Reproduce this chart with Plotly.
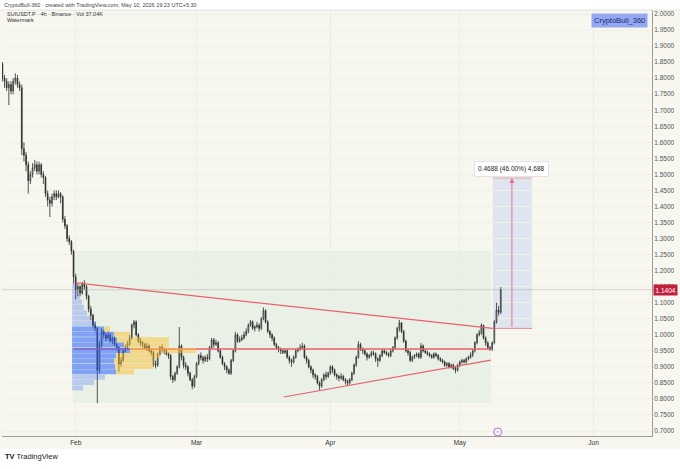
"""
SUIUSDT.P 4h chart (TradingView screenshot) rebuilt with plotly
"""

import pandas as pd
import plotly.graph_objects as go

# ---- candles: 12h bars, one line = 4 days ----
first_open = 1.845
closes = [
    1.80, 1.79, 1.77, 1.78, 1.76, 1.79, 1.80, 1.78,
    1.77, 1.58, 1.56, 1.53, 1.48, 1.50, 1.52, 1.53,
    1.51, 1.53, 1.50, 1.49, 1.44, 1.42, 1.41, 1.43,
    1.44, 1.43, 1.44, 1.43, 1.36, 1.34, 1.30, 1.29,
    1.26, 1.18, 1.14, 1.15, 1.13, 1.16, 1.15, 1.12,
    1.08, 1.06, 1.03, 1.02, 0.89, 0.97, 1.01, 1.00,
    0.99, 1.00, 0.98, 0.99, 0.97, 0.96, 0.91, 0.92,
    0.95, 0.96, 0.97, 0.99, 1.03, 1.04, 1.00, 0.98,
    0.975, 0.97, 0.96, 0.965, 0.95, 0.945, 0.91, 0.905,
    0.94, 0.96, 0.955, 0.95, 0.94, 0.935, 0.87, 0.86,
    0.88, 0.90, 0.965, 0.93, 0.905, 0.90, 0.88, 0.86,
    0.84, 0.87, 0.91, 0.935, 0.928, 0.92, 0.93, 0.925,
    0.96, 0.984, 0.97, 0.975, 0.95, 0.93, 0.91, 0.90,
    0.89, 0.88, 0.92, 0.95, 1.00, 0.98, 0.985, 0.99,
    1.00, 1.01, 1.03, 1.04, 1.02, 1.025, 1.03, 1.02,
    1.05, 1.075, 1.04, 1.01, 1.00, 0.99, 0.97, 0.96,
    0.955, 0.95, 0.945, 0.95, 0.93, 0.92, 0.915, 0.93,
    0.95, 0.955, 0.96, 0.965, 0.93, 0.92, 0.90, 0.89,
    0.875, 0.87, 0.85, 0.84, 0.86, 0.875, 0.87, 0.88,
    0.90, 0.89, 0.875, 0.87, 0.865, 0.87, 0.86, 0.855,
    0.85, 0.86, 0.88, 0.906, 0.93, 0.97, 0.955, 0.95,
    0.94, 0.93, 0.935, 0.944, 0.94, 0.925, 0.92, 0.935,
    0.95, 0.945, 0.94, 0.935, 0.95, 0.96, 0.99, 1.02,
    1.037, 1.01, 0.98, 0.95, 0.944, 0.92, 0.93, 0.935,
    0.94, 0.93, 0.965, 0.95, 0.945, 0.94, 0.935, 0.93,
    0.94, 0.935, 0.925, 0.92, 0.915, 0.905, 0.91, 0.90,
    0.905, 0.895, 0.89, 0.905, 0.915, 0.92, 0.915, 0.925,
    0.93, 0.937, 0.95, 0.975, 1.00, 1.006, 1.03, 0.99,
    0.974, 0.96, 0.955, 0.975, 1.04, 1.077, 1.07, 1.1404,
]
highs = [
    1.85, 1.81, 1.80, 1.79, 1.79, 1.80, 1.815, 1.81,
    1.79, 1.78, 1.60, 1.57, 1.54, 1.51, 1.535, 1.545,
    1.54, 1.54, 1.535, 1.51, 1.495, 1.45, 1.43, 1.44,
    1.45, 1.45, 1.45, 1.445, 1.435, 1.37, 1.345, 1.31,
    1.295, 1.265, 1.19, 1.16, 1.155, 1.165, 1.17, 1.155,
    1.125, 1.09, 1.065, 1.04, 1.025, 0.98, 1.02, 1.015,
    1.005, 1.01, 1.005, 0.995, 0.995, 0.975, 0.965, 0.93,
    0.955, 0.97, 0.98, 1.00, 1.035, 1.046, 1.045, 1.005,
    0.99, 0.98, 0.975, 0.975, 0.97, 0.955, 0.95, 0.92,
    0.945, 0.965, 0.97, 0.96, 0.955, 0.945, 0.94, 0.875,
    0.885, 0.905, 1.024, 0.97, 0.935, 0.915, 0.905, 0.885,
    0.865, 0.875, 0.915, 0.94, 0.945, 0.935, 0.935, 0.94,
    0.965, 0.99, 0.99, 0.985, 0.98, 0.955, 0.935, 0.915,
    0.905, 0.895, 0.925, 0.955, 1.009, 1.005, 0.995, 1.00,
    1.01, 1.02, 1.035, 1.046, 1.045, 1.03, 1.04, 1.035,
    1.055, 1.085, 1.08, 1.045, 1.015, 1.005, 0.995, 0.975,
    0.965, 0.96, 0.955, 0.955, 0.955, 0.935, 0.925, 0.935,
    0.955, 0.96, 0.97, 0.975, 0.97, 0.935, 0.925, 0.905,
    0.895, 0.88, 0.875, 0.855, 0.865, 0.88, 0.885, 0.885,
    0.905, 0.905, 0.895, 0.88, 0.875, 0.88, 0.875, 0.865,
    0.86, 0.865, 0.885, 0.91, 0.935, 0.98, 0.975, 0.96,
    0.955, 0.945, 0.94, 0.95, 0.95, 0.945, 0.93, 0.94,
    0.955, 0.955, 0.95, 0.945, 0.955, 0.965, 0.995, 1.025,
    1.046, 1.04, 1.015, 0.985, 0.955, 0.95, 0.935, 0.94,
    0.945, 0.945, 0.974, 0.97, 0.955, 0.95, 0.945, 0.94,
    0.945, 0.945, 0.94, 0.93, 0.925, 0.92, 0.915, 0.915,
    0.91, 0.91, 0.90, 0.91, 0.92, 0.925, 0.925, 0.93,
    0.935, 0.945, 0.955, 0.98, 1.005, 1.015, 1.035, 1.03,
    0.995, 0.98, 0.965, 0.98, 1.045, 1.10, 1.09, 1.149,
]
lows = [
    1.79, 1.77, 1.76, 1.716, 1.75, 1.75, 1.78, 1.77,
    1.76, 1.56, 1.54, 1.51, 1.44, 1.47, 1.49, 1.51,
    1.50, 1.50, 1.49, 1.47, 1.43, 1.40, 1.367, 1.40,
    1.42, 1.42, 1.425, 1.41, 1.35, 1.33, 1.29, 1.28,
    1.25, 1.16, 1.11, 1.12, 1.12, 1.125, 1.14, 1.11,
    1.07, 1.045, 1.02, 1.01, 0.787, 0.88, 0.96, 0.99,
    0.98, 0.985, 0.975, 0.97, 0.965, 0.95, 0.884, 0.90,
    0.915, 0.945, 0.955, 0.965, 0.985, 1.02, 0.995, 0.975,
    0.965, 0.96, 0.955, 0.95, 0.945, 0.935, 0.90, 0.895,
    0.90, 0.935, 0.945, 0.94, 0.935, 0.925, 0.86, 0.85,
    0.855, 0.875, 0.895, 0.92, 0.895, 0.89, 0.87, 0.855,
    0.83, 0.835, 0.865, 0.905, 0.92, 0.91, 0.915, 0.915,
    0.92, 0.955, 0.96, 0.965, 0.945, 0.925, 0.905, 0.89,
    0.88, 0.875, 0.875, 0.915, 0.945, 0.975, 0.975, 0.98,
    0.985, 0.995, 1.005, 1.025, 1.015, 1.01, 1.02, 1.01,
    1.015, 1.045, 1.035, 1.005, 0.99, 0.98, 0.965, 0.955,
    0.945, 0.94, 0.94, 0.94, 0.925, 0.91, 0.90, 0.91,
    0.925, 0.945, 0.95, 0.955, 0.925, 0.91, 0.895, 0.88,
    0.865, 0.86, 0.845, 0.828, 0.835, 0.855, 0.86, 0.865,
    0.875, 0.88, 0.87, 0.86, 0.855, 0.86, 0.855, 0.845,
    0.84, 0.845, 0.855, 0.875, 0.90, 0.925, 0.95, 0.94,
    0.935, 0.92, 0.925, 0.93, 0.935, 0.915, 0.90, 0.915,
    0.93, 0.94, 0.935, 0.93, 0.93, 0.945, 0.955, 0.985,
    1.01, 1.005, 0.975, 0.945, 0.935, 0.915, 0.915, 0.925,
    0.93, 0.925, 0.925, 0.945, 0.94, 0.935, 0.93, 0.925,
    0.925, 0.93, 0.92, 0.915, 0.91, 0.90, 0.90, 0.895,
    0.895, 0.89, 0.88, 0.885, 0.90, 0.91, 0.91, 0.91,
    0.92, 0.925, 0.93, 0.945, 0.97, 0.995, 1.00, 0.985,
    0.965, 0.955, 0.95, 0.95, 0.97, 1.035, 1.06, 1.065,
]
assert len(closes) == len(highs) == len(lows)

dates = pd.date_range("2026-01-15 00:00", periods=len(closes), freq="12h")
opens = [first_open] + closes[:-1]

# ---- fixed range volume profile (rows top -> bottom, widths relative) ----
vp_price = [1.1517, 1.1350, 1.1183, 1.1016, 1.0849, 1.0682, 1.0515, 1.0348,
            1.0181, 1.0014, 0.9847, 0.9680, 0.9513, 0.9346, 0.9179, 0.9012,
            0.8845, 0.8678, 0.8511, 0.8344]
vp_up = [4, 6, 8, 10, 12, 15, 18, 24, 32, 42, 45, 52, 58, 44, 42, 43, 44, 33, 22, 11]
vp_down = [0, 0, 0, 0, 0, 0, 0, 0, 6, 16, 52, 45, 66, 44, 40, 38, 18, 0, 0, 0]
vp_value_area = [False] * 8 + [True] * 9 + [False] * 3
vp_from, vp_to = "2026-01-31 07:00", "2026-05-08 05:00"
vp_low, vp_high = 0.787, 1.261

# ---- drawings ----
desc_x = ["2026-02-01 00:00", "2026-05-08 15:00"]
desc_y = [1.1615, 1.020]
asc_x = ["2026-03-21 05:00", "2026-05-08 05:00"]
asc_y = [0.806, 0.921]
poc_x = ["2026-01-31 12:00", "2026-05-08 05:00"]
poc_y = [0.9557, 0.9557]

measure_x0, measure_x1 = "2026-05-08 16:00", "2026-05-17 17:00"
measure_mid = "2026-05-13 02:00"
measure_low, measure_high = 1.0200, 1.4888
measure_text = "0.4688 (46.00%) 4,688"

last_price = 1.1404
event_date = "2026-05-09 19:00"

month_ticks = ["2026-02-01", "2026-03-01", "2026-04-01", "2026-05-01", "2026-06-01"]
month_labels = ["Feb", "Mar", "Apr", "May", "Jun"]

CREAM = "#F7F7F0"
RED = "#E8606C"
FONT = "Liberation Sans"

fig = go.Figure()

fig.add_trace(go.Candlestick(
    x=dates, open=opens, high=highs, low=lows, close=closes,
    increasing=dict(line=dict(color="#2a2a2a", width=0.8), fillcolor="#ffffff"),
    decreasing=dict(line=dict(color="#2a2a2a", width=0.8), fillcolor="#2a2a2a"),
    whiskerwidth=0, hoverinfo="skip",
))

# trend lines
for lx, ly, w in [(desc_x, desc_y, 1.2), (asc_x, asc_y, 1.2), (poc_x, poc_y, 1.6)]:
    fig.add_trace(go.Scatter(x=lx, y=ly, mode="lines",
                             line=dict(color=RED, width=w), hoverinfo="skip"))

# event marker on the time axis
fig.add_trace(go.Scatter(x=[event_date], y=[0.697], mode="markers",
                         marker=dict(symbol="circle-open-dot", size=8, color="#B46CDA",
                                     line=dict(width=1)),
                         hoverinfo="skip"))

# volume profile on an overlay axis so it sits above the candles
up_colors = ["rgba(41,98,255,0.55)" if va else "rgba(41,98,255,0.26)" for va in vp_value_area]
down_colors = ["rgba(251,192,45,0.5)" if va else "rgba(251,192,45,0.26)" for va in vp_value_area]
fig.add_trace(go.Bar(x=vp_up, y=vp_price, orientation="h", xaxis="x2", yaxis="y",
                     width=0.0155, marker=dict(color=up_colors, line=dict(width=0)),
                     hoverinfo="skip"))
fig.add_trace(go.Bar(x=vp_down, y=vp_price, base=vp_up, orientation="h", xaxis="x2",
                     yaxis="y", width=0.0155,
                     marker=dict(color=down_colors, line=dict(width=0)),
                     hoverinfo="skip"))

shapes = [
    # cream chart panel incl. axis strips
    dict(type="rect", xref="paper", yref="paper", x0=-0.004, x1=1.05, y0=-0.0305, y1=1.0,
         fillcolor=CREAM, line=dict(width=0), layer="below"),
    dict(type="line", xref="paper", yref="paper", x0=-0.004, x1=1.05, y0=1.0, y1=1.0,
         line=dict(color="#e2e2dc", width=1)),
    # volume profile range
    dict(type="rect", xref="x", yref="y", x0=vp_from, x1=vp_to, y0=vp_low, y1=vp_high,
         fillcolor="rgba(80,170,120,0.08)", line=dict(width=0), layer="below"),
    # price range tool
    dict(type="rect", xref="x", yref="y", x0=measure_x0, x1=measure_x1,
         y0=measure_low, y1=measure_high,
         fillcolor="rgba(41,98,255,0.12)", line=dict(width=0), layer="below"),
    dict(type="line", xref="x", yref="y", x0=measure_x0, x1=measure_x1,
         y0=measure_high, y1=measure_high, line=dict(color="rgba(232,96,108,0.55)", width=1)),
    dict(type="line", xref="x", yref="y", x0=measure_x0, x1=measure_x1,
         y0=measure_low, y1=measure_low, line=dict(color="rgba(232,96,108,0.8)", width=1)),
    # last price line
    dict(type="line", xref="paper", yref="y", x0=0, x1=1, y0=last_price, y1=last_price,
         line=dict(color="rgba(170,160,160,0.55)", width=0.8)),
]

annotations = [
    dict(xref="paper", yref="paper", x=0.0, y=1.0117, xanchor="left", yanchor="middle",
         text="CryptoBull-360 · created with TradingView.com, May 10, 2026 19:23 UTC+5:30",
         showarrow=False, font=dict(size=5.5, color="#444", family=FONT)),
    dict(xref="paper", yref="paper", x=0.0046, y=0.9906, xanchor="left", yanchor="middle",
         text="SUIUSDT.P · 4h · Binance · Vol 37.04K",
         showarrow=False, font=dict(size=5.5, color="#333", family=FONT)),
    dict(xref="paper", yref="paper", x=0.0046, y=0.9765, xanchor="left", yanchor="middle",
         text="Watermark", showarrow=False, font=dict(size=5.5, color="#333", family=FONT)),
    dict(xref="paper", yref="paper", x=0.9938, y=0.993, xanchor="right", yanchor="top",
         text="CryptoBull_360", showarrow=False, bgcolor="#93A8F2", borderpad=2,
         font=dict(size=7.5, color="#1f2a70", family=FONT)),
    dict(xref="paper", yref="paper", x=0.002, y=-0.049, xanchor="left", yanchor="middle",
         text="<b>TV</b> TradingView", showarrow=False,
         font=dict(size=7.5, color="#131722", family=FONT)),
    dict(xref="paper", yref="y", x=1.0, y=last_price, xanchor="left", yanchor="middle",
         text=f"{last_price:.4f}", showarrow=False, bgcolor="#C41E3A", borderpad=1.5,
         xshift=1, font=dict(size=6.5, color="white", family=FONT)),
    # arrow of the price range tool
    dict(xref="x", yref="y", x=measure_mid, y=measure_high, axref="x", ayref="y",
         ax=measure_mid, ay=measure_low, text="", showarrow=True, arrowhead=2,
         arrowsize=1, arrowwidth=1, arrowcolor="rgba(232,96,108,0.85)"),
    dict(xref="x", yref="y", x=measure_mid, y=1.5168, text=measure_text, showarrow=False,
         bgcolor="white", bordercolor="#e3e3e3", borderwidth=1, borderpad=3,
         font=dict(size=6.5, color="#222", family=FONT)),
]

fig.update_layout(
    width=680, height=469,
    margin=dict(l=2, r=28, t=10, b=33),
    paper_bgcolor="white", plot_bgcolor=CREAM,
    showlegend=False, barmode="overlay", boxgap=0.5,
    font=dict(family=FONT),
    shapes=shapes, annotations=annotations,
    xaxis=dict(type="date", range=["2026-01-14 22:00", "2026-06-14 13:00"],
               rangeslider=dict(visible=False), tickvals=month_ticks, ticktext=month_labels,
               showgrid=True, gridcolor="#EDEDE5", gridwidth=1, zeroline=False,
               showline=True, linecolor="#9c9c9c", linewidth=1, ticks="",
               tickfont=dict(size=6.5, color="#333", family=FONT)),
    xaxis2=dict(overlaying="x", range=[-70, 580], visible=False),
    yaxis=dict(side="right", range=[0.6844, 2.0125], tick0=0.7, dtick=0.05,
               tickformat=".4f", showgrid=True, gridcolor="#F0F0E8", zeroline=False,
               showline=True, linecolor="#9c9c9c", linewidth=1, ticks="",
               tickfont=dict(size=6.5, color="#555", family=FONT)),
)

# the page body has a default 8px margin; drop it so the figure fills the window
fig.write_html("out.html", config={"displayModeBar": False},
               post_script="document.body.style.margin = '0';")
